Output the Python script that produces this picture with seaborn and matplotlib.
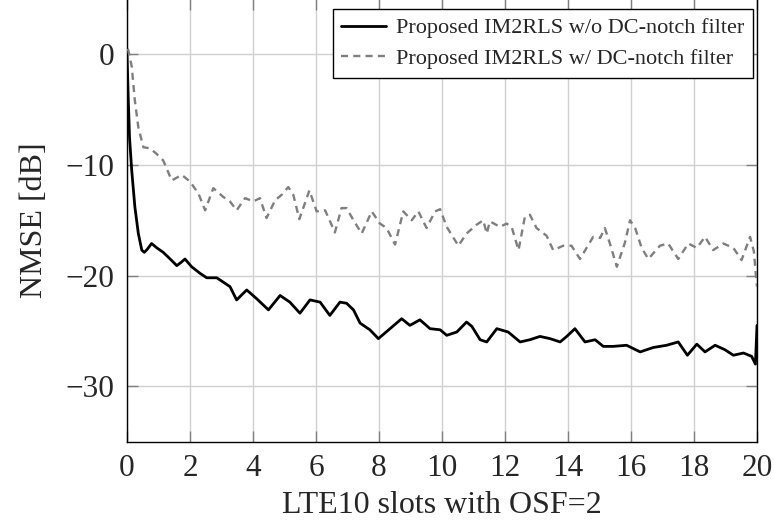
import matplotlib
matplotlib.use("Agg")
import matplotlib.pyplot as plt
import seaborn as sns
import pandas as pd

# ---- data ----
x_solid = [0.00, 0.04, 0.08, 0.15, 0.25, 0.36, 0.47, 0.55, 0.65, 0.78, 0.95, 1.15, 1.37,
           1.58, 1.72, 1.84, 2.05, 2.32, 2.53, 2.85, 3.06, 3.27, 3.48, 3.80, 4.12, 4.49,
           4.86, 5.17, 5.49, 5.81, 6.13, 6.44, 6.76, 6.97, 7.19, 7.40, 7.71, 7.98, 8.35,
           8.72, 8.98, 9.30, 9.62, 9.94, 10.15, 10.47, 10.78, 10.95, 11.21, 11.42, 11.74,
           12.10, 12.48, 12.79, 13.11, 13.43, 13.75, 13.96, 14.22, 14.54, 14.86, 15.12,
           15.44, 15.86, 16.29, 16.71, 17.13, 17.50, 17.79, 18.09, 18.35, 18.67, 18.98,
           19.25, 19.57, 19.83, 19.95, 20.00]
y_solid = [0.0, -4.0, -7.5, -10.5, -13.8, -16.2, -17.7, -17.9, -17.6, -17.1, -17.5, -17.9, -18.5,
           -19.1, -18.8, -18.5, -19.2, -19.8, -20.2, -20.2, -20.6, -21.0, -22.2, -21.3, -22.1, -23.1,
           -21.8, -22.4, -23.4, -22.2, -22.4, -23.6, -22.4, -22.5, -23.1, -24.3, -24.9, -25.7, -24.8,
           -23.9, -24.5, -24.0, -24.8, -24.9, -25.4, -25.1, -24.2, -24.6, -25.8, -26.0, -24.8,
           -25.1, -26.0, -25.8, -25.5, -25.7, -26.0, -25.5, -24.8, -26.0, -25.8, -26.4,
           -26.4, -26.3, -26.9, -26.5, -26.3, -26.0, -27.2, -26.2, -26.9, -26.3, -26.7,
           -27.2, -27.0, -27.3, -28.0, -24.5]

x_dash = [0.02, 0.04, 0.15, 0.25, 0.36, 0.52, 0.73, 0.94, 1.15, 1.42, 1.74, 2.00, 2.27, 2.48,
          2.74, 3.06, 3.27, 3.48, 3.75, 4.01, 4.22, 4.43, 4.70, 4.91, 5.12, 5.28, 5.47, 5.79,
          6.02, 6.29, 6.60, 6.81, 6.97, 7.19, 7.45, 7.77, 8.03, 8.24, 8.51, 8.77, 9.04, 9.25,
          9.51, 9.78, 9.94, 10.15, 10.52, 10.78, 11.10, 11.31, 11.42, 11.52, 11.84, 12.05,
          12.21, 12.43, 12.63, 12.79, 13.00, 13.32, 13.53, 13.85, 14.11, 14.38, 14.59, 14.80,
          15.02, 15.17, 15.33, 15.55, 15.81, 15.97, 16.13, 16.34, 16.55, 16.92, 17.18, 17.50,
          17.82, 18.09, 18.35, 18.61, 18.93, 19.25, 19.51, 19.78, 19.90, 19.96, 20.00]
y_dash = [0.5, 0.4, -1.1, -4.2, -6.6, -8.4, -8.5, -9.0, -9.6, -11.4, -10.9, -11.5, -12.6, -14.1,
          -12.1, -12.9, -13.3, -14.1, -13.0, -13.3, -13.0, -14.8, -13.2, -12.7, -12.0, -12.7, -14.9, -12.3,
          -14.2, -14.1, -16.1, -13.9, -13.9, -15.0, -16.2, -14.2, -15.3, -15.7, -17.2, -14.2, -15.0, -14.2,
          -15.7, -14.2, -14.0, -15.6, -17.3, -16.2, -15.4, -15.0, -16.2, -15.1, -15.6, -15.3,
          -15.6, -17.7, -14.7, -14.5, -15.7, -16.4, -17.7, -17.3, -17.3, -18.5, -17.5, -16.5,
          -16.6, -15.7, -17.1, -19.2, -17.0, -15.0, -15.7, -17.5, -18.5, -17.3, -17.1, -18.5,
          -17.1, -17.5, -16.5, -17.7, -17.1, -17.5, -18.6, -16.5, -17.8, -19.8, -21.0]

label_solid = "Proposed IM2RLS w/o DC-notch filter"
label_dash = "Proposed IM2RLS w/ DC-notch filter"
x_ticks = [0, 2, 4, 6, 8, 10, 12, 14, 16, 18, 20]
y_ticks = [0, -10, -20, -30]
x_label = "LTE10 slots with OSF=2"
y_label = "NMSE [dB]"

df_solid = pd.DataFrame({"x": x_solid, "y": y_solid})
df_dash = pd.DataFrame({"x": x_dash, "y": y_dash})

sns.set_style("white")
plt.rcParams["font.family"] = ["Liberation Serif", "DejaVu Serif"]

fig = plt.figure(figsize=(7.74, 5.27), dpi=100)
ax = fig.add_axes([127 / 774, 0.1622, 630 / 774, 0.8397])

ax.grid(True, color="#d0d0d0", linewidth=1.0, zorder=0)
ax.set_axisbelow(True)

sns.lineplot(data=df_solid, x="x", y="y", ax=ax, color="black", linewidth=2.0,
             label=label_solid, zorder=3)
sns.lineplot(data=df_dash, x="x", y="y", ax=ax, color="#7f7f7f", linewidth=1.7,
             linestyle=(0, (3.0, 2.2)), label=label_dash, zorder=3)

ax.set_xlim(0, 20)
ax.set_ylim(-35, 5)
ax.set_xticks(x_ticks)
ax.set_yticks(y_ticks)
ax.tick_params(axis="both", which="major", direction="in", length=8, width=1.0,
               color="#808080", labelsize=22.5, top=True, right=True,
               bottom=True, left=True)
ax.tick_params(axis="x", pad=9)
ax.tick_params(axis="y", pad=9)
for s in ax.spines.values():
    s.set_color("black")
    s.set_linewidth(1.0)

ax.set_xlabel(x_label, fontsize=23, labelpad=6)
ax.set_ylabel(y_label, fontsize=23, labelpad=12)

leg = ax.legend(loc="upper right", bbox_to_anchor=(1 - 4 / 630, 1 - 10 / 442.5),
                borderaxespad=0, fontsize=16, frameon=True, fancybox=False,
                framealpha=1, edgecolor="black", handlelength=2.0,
                handletextpad=0.45, labelspacing=0.45, borderpad=0.4)
leg.get_frame().set_linewidth(1.0)

fig.savefig("out.png", dpi=100)
